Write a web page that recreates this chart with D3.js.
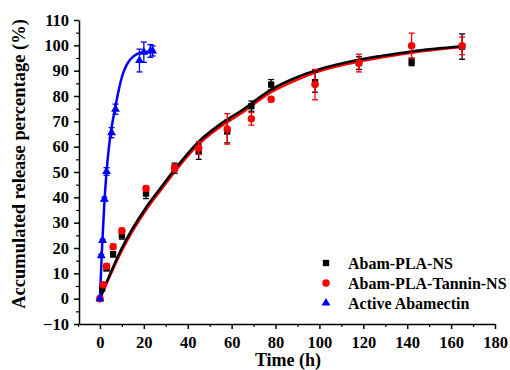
<!DOCTYPE html>
<html>
<head>
<meta charset="utf-8">
<script src="https://cdn.jsdelivr.net/npm/d3@7"></script>
<style>
  html, body { margin: 0; padding: 0; background: #fff; }
  svg { display: block; }
</style>
</head>
<body>
<svg id="chart" width="510" height="370"></svg>
<script>
// Measured points (time in h, release %, error)
const plaTime = [0, 1, 3, 6, 10, 21, 34, 45, 58, 69, 78, 98, 118, 142, 165];
const plaValue = [0, 4, 12, 17.5, 25, 41.5, 51.5, 58, 66, 76, 84.5, 85.5, 93, 93.5, 99.5];
const plaErr = [0, 0.5, 1, 1, 1.5, 2, 2, 3, 4.5, 2, 2, 4, 2.5, 1.5, 5];

const tanTime = [0, 1.5, 3, 6, 10, 21, 34, 45, 58, 69, 78, 98, 118, 142, 165];
const tanValue = [0, 5.5, 12.8, 20.5, 26.8, 43.5, 51.5, 59.5, 67, 71, 78.7, 84.5, 93, 99.8, 99.8];
const tanErr = [0, 0.5, 1, 1, 1, 1, 1.5, 2.5, 6, 2.5, 1, 6, 3.5, 5, 3.5];

const actTime = [0, 0.6, 1.2, 2, 3, 5.3, 7.1, 18, 20, 23, 24];
const actValue = [0, 17, 23, 39.3, 50.2, 65.5, 74.8, 94, 97.3, 97.8, 97.8];
const actErr = [0, 0.5, 0.5, 0.8, 1.5, 2, 2, 4.5, 4, 2.5, 2];

// Fitted curves
const plaFitTime = [0, 5, 10, 21, 27, 34, 45, 55, 64, 78, 90, 98, 118, 128, 142, 165];
const plaFitValue = [0, 10.5, 20, 36, 43, 51, 62, 69, 74, 82.5, 87.5, 90, 94.3, 95.8, 97.6, 99.6];
const tanFitTime = [0, 5, 10, 21, 27, 34, 45, 55, 64, 78, 90, 98, 118, 128, 142, 165];
const tanFitValue = [0, 9.8, 19, 35, 42, 50, 61, 68, 73, 81.5, 86.5, 89.2, 93.6, 95.2, 97.1, 99.3];
const actFitTime = [0, 1, 2, 3, 4, 5, 6, 7, 8, 10, 12, 14, 17, 20, 25];
const actFitValue = [0, 21, 37.5, 50, 59, 66, 71, 75.5, 80, 87.5, 92, 94.6, 96.6, 97.3, 97.6];

const xTicks = [0, 20, 40, 60, 80, 100, 120, 140, 160, 180];
const yTicks = [-10, 0, 10, 20, 30, 40, 50, 60, 70, 80, 90, 100, 110];
const legendLabels = ["Abam-PLA-NS", "Abam-PLA-Tannin-NS", "Active Abamectin"];

const FONT = "'Liberation Serif', 'Times New Roman', Times, serif";

const svg = d3.select("#chart");
const x = d3.scaleLinear().domain([-10, 180]).range([78, 495]);
const y = d3.scaleLinear().domain([-10, 110]).range([324, 20]);

function zip(ts, vs, es) {
  return ts.map((t, i) => ({ t, v: vs[i], e: es ? es[i] : 0 }));
}

function styleTicks(g) {
  g.selectAll(".tick line").attr("stroke-width", 1.5);
  g.select(".domain").attr("stroke-width", 1.5);
  g.selectAll("text").attr("font-size", 16.5).attr("font-family", FONT)
    .attr("font-weight", "bold").attr("fill", "#000");
}

// Axes
const gx = svg.append("g").attr("transform", `translate(0,${y(-10)})`)
  .call(d3.axisBottom(x).tickValues(xTicks).tickSize(5).tickPadding(7).tickSizeOuter(0));
styleTicks(gx);
svg.append("g").attr("transform", `translate(0,${y(-10)})`)
  .call(d3.axisBottom(x).tickValues(d3.range(-10, 181, 10).filter((d) => d % 20 !== 0)).tickSize(3).tickFormat(""))
  .call((g) => g.select(".domain").remove())
  .selectAll(".tick line").attr("stroke-width", 1.2);

const gy = svg.append("g").attr("transform", `translate(${x(-10) + 1},0)`)
  .call(d3.axisLeft(y).tickValues(yTicks).tickSize(5).tickPadding(5).tickSizeOuter(0));
styleTicks(gy);
svg.append("g").attr("transform", `translate(${x(-10) + 1},0)`)
  .call(d3.axisLeft(y).tickValues(d3.range(-5, 110, 10)).tickSize(3).tickFormat(""))
  .call((g) => g.select(".domain").remove())
  .selectAll(".tick line").attr("stroke-width", 1.2);

// Axis titles
svg.append("text").attr("x", 288).attr("y", 366).attr("text-anchor", "middle")
  .attr("font-family", FONT).attr("font-weight", "bold").attr("font-size", 18).text("Time (h)");
svg.append("text").attr("transform", "translate(25,164) rotate(-90)")
  .attr("text-anchor", "middle").attr("font-family", FONT).attr("font-weight", "bold").attr("font-size", 18.5)
  .text("Accumulated release percentage (%)");

// Fitted curves
const line = d3.line().x((d) => x(d.t)).y((d) => y(d.v)).curve(d3.curveMonotoneX);
svg.append("path").datum(zip(tanFitTime, tanFitValue)).attr("d", line)
  .attr("fill", "none").attr("stroke", "#ff0000").attr("stroke-width", 2.5);
svg.append("path").datum(zip(plaFitTime, plaFitValue)).attr("d", line)
  .attr("fill", "none").attr("stroke", "#000").attr("stroke-width", 2.5);
svg.append("path").datum(zip(actFitTime, actFitValue)).attr("d", line)
  .attr("fill", "none").attr("stroke", "#0000ff").attr("stroke-width", 2.5);

function errorBars(data, color) {
  const g = svg.append("g").attr("stroke", color).attr("stroke-width", 1.3);
  data.filter((d) => d.e > 0).forEach((d) => {
    const cx = x(d.t);
    g.append("line").attr("x1", cx).attr("x2", cx).attr("y1", y(d.v - d.e)).attr("y2", y(d.v + d.e));
    g.append("line").attr("x1", cx - 3).attr("x2", cx + 3).attr("y1", y(d.v - d.e)).attr("y2", y(d.v - d.e));
    g.append("line").attr("x1", cx - 3).attr("x2", cx + 3).attr("y1", y(d.v + d.e)).attr("y2", y(d.v + d.e));
  });
}

const plaData = zip(plaTime, plaValue, plaErr);
const tanData = zip(tanTime, tanValue, tanErr);
const actData = zip(actTime, actValue, actErr);

const sqr = d3.symbol().type(d3.symbolSquare).size(40);
const cir = d3.symbol().type(d3.symbolCircle).size(44);
const tri = d3.symbol().type(d3.symbolTriangle).size(34);

errorBars(plaData, "#000");
svg.append("g").selectAll("path").data(plaData).join("path")
  .attr("d", sqr).attr("transform", (d) => `translate(${x(d.t)},${y(d.v)})`).attr("fill", "#000");

errorBars(tanData, "#ff0000");
svg.append("g").selectAll("path").data(tanData).join("path")
  .attr("d", cir).attr("transform", (d) => `translate(${x(d.t)},${y(d.v)})`).attr("fill", "#ff0000");

errorBars(actData, "#0000ff");
svg.append("g").selectAll("path").data(actData).join("path")
  .attr("d", tri).attr("transform", (d) => `translate(${x(d.t)},${y(d.v)})`).attr("fill", "#0000ff");

// Legend
const legendSymbols = [sqr, cir, tri];
const legendColors = ["#000", "#ff0000", "#0000ff"];
const legend = svg.append("g").attr("transform", "translate(326,263)");
legendLabels.forEach((label, i) => {
  legend.append("path").attr("d", legendSymbols[i])
    .attr("transform", `translate(0,${i * 20})`).attr("fill", legendColors[i]);
  legend.append("text").attr("x", 22).attr("y", i * 20 + 5.5)
    .attr("font-family", FONT).attr("font-weight", "bold").attr("font-size", 16).text(label);
});
</script>
</body>
</html>
